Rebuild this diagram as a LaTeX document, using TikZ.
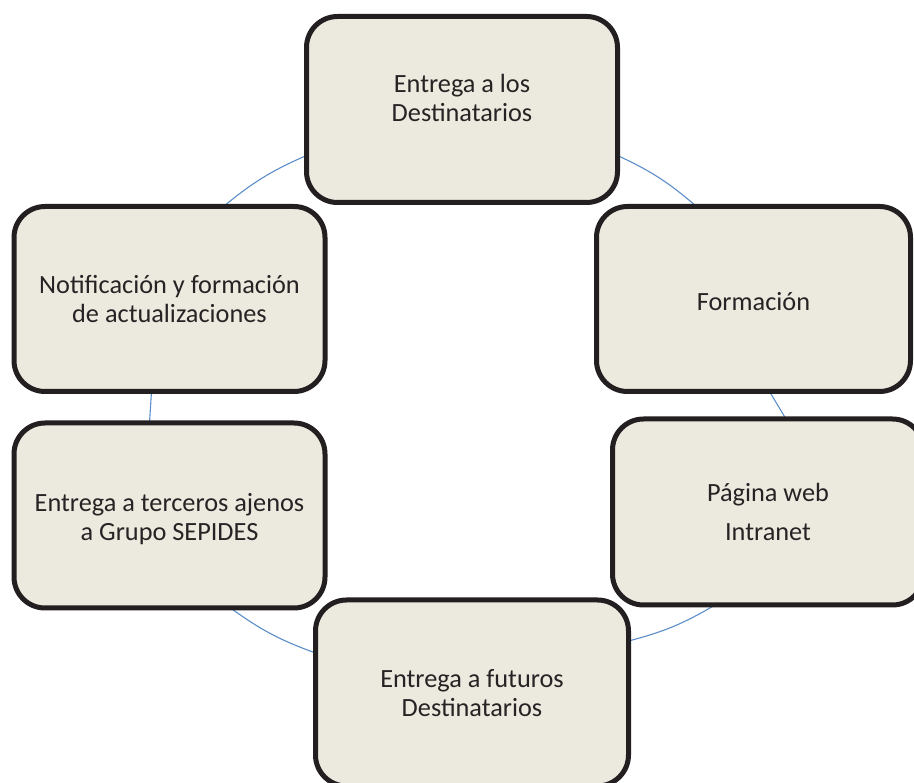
\documentclass[tikz,border=0pt]{standalone}
\usepackage{fontspec}
\setmainfont{Carlito}
\usetikzlibrary{backgrounds}
\definecolor{boxfill}{HTML}{ECE9DF}
\definecolor{boxline}{HTML}{231F20}
\definecolor{linkblue}{HTML}{5B8EC9}
\definecolor{labeltext}{HTML}{262324}
\tikzset{
  stepbox/.style={draw=boxline,fill=boxfill,line width=5pt,rounded corners=31pt,
    align=center,inner sep=0pt,outer sep=0pt,text=labeltext,
    font=\fontsize{26.3}{29}\selectfont},
  link/.style={draw=linkblue,line width=1.1pt}
}
\begin{document}
\begin{tikzpicture}[x=1pt,y=-1pt]
\useasboundingbox (0,0) rectangle (914,783);
\clip (0,0) rectangle (914,783);
\node[stepbox,minimum width=311pt,minimum height=186pt] (top) at (462,109.5) {Entrega a los\\Destinatarios\\[-5pt]\mbox{}};
\node[stepbox,minimum width=314pt,minimum height=185pt] (form) at (753.5,299) {\rule{0pt}{23pt}Formación};
\node[stepbox,minimum width=311pt,minimum height=185pt] (notif) at (169.5,299) {Notificación y formación\\de actualizaciones};
\node[stepbox,minimum width=311pt,minimum height=185pt] (terc) at (169.5,515.5) {\rule{0pt}{26pt}Entrega a terceros ajenos\\a Grupo SEPIDES};
\node[stepbox,minimum width=311pt,minimum height=186pt,font=\fontsize{26.3}{39}\selectfont] (web) at (768,512) {Página web\\Intranet};
\node[stepbox,minimum width=313pt,minimum height=186pt] (fut) at (472,693) {Entrega a futuros\\Destinatarios};
\begin{scope}[on background layer]
\draw[link] ([yshift=47pt]top.south east) to[bend left=8] ([xshift=-57pt]form.north);
\draw[link] ([xshift=16pt]form.south) -- ([xshift=18pt]web.north);
\draw[link] ([xshift=-53pt]web.south) to[bend left=8] ([yshift=52pt]fut.east);
\draw[link] ([yshift=40pt]fut.west) to[bend left=8] ([xshift=61pt]terc.south);
\draw[link] ([xshift=-20pt]terc.north) -- ([xshift=-18pt]notif.south);
\draw[link] ([xshift=54pt]notif.north) to[bend left=8] ([yshift=47pt]top.south west);
\end{scope}
\end{tikzpicture}
\end{document}
